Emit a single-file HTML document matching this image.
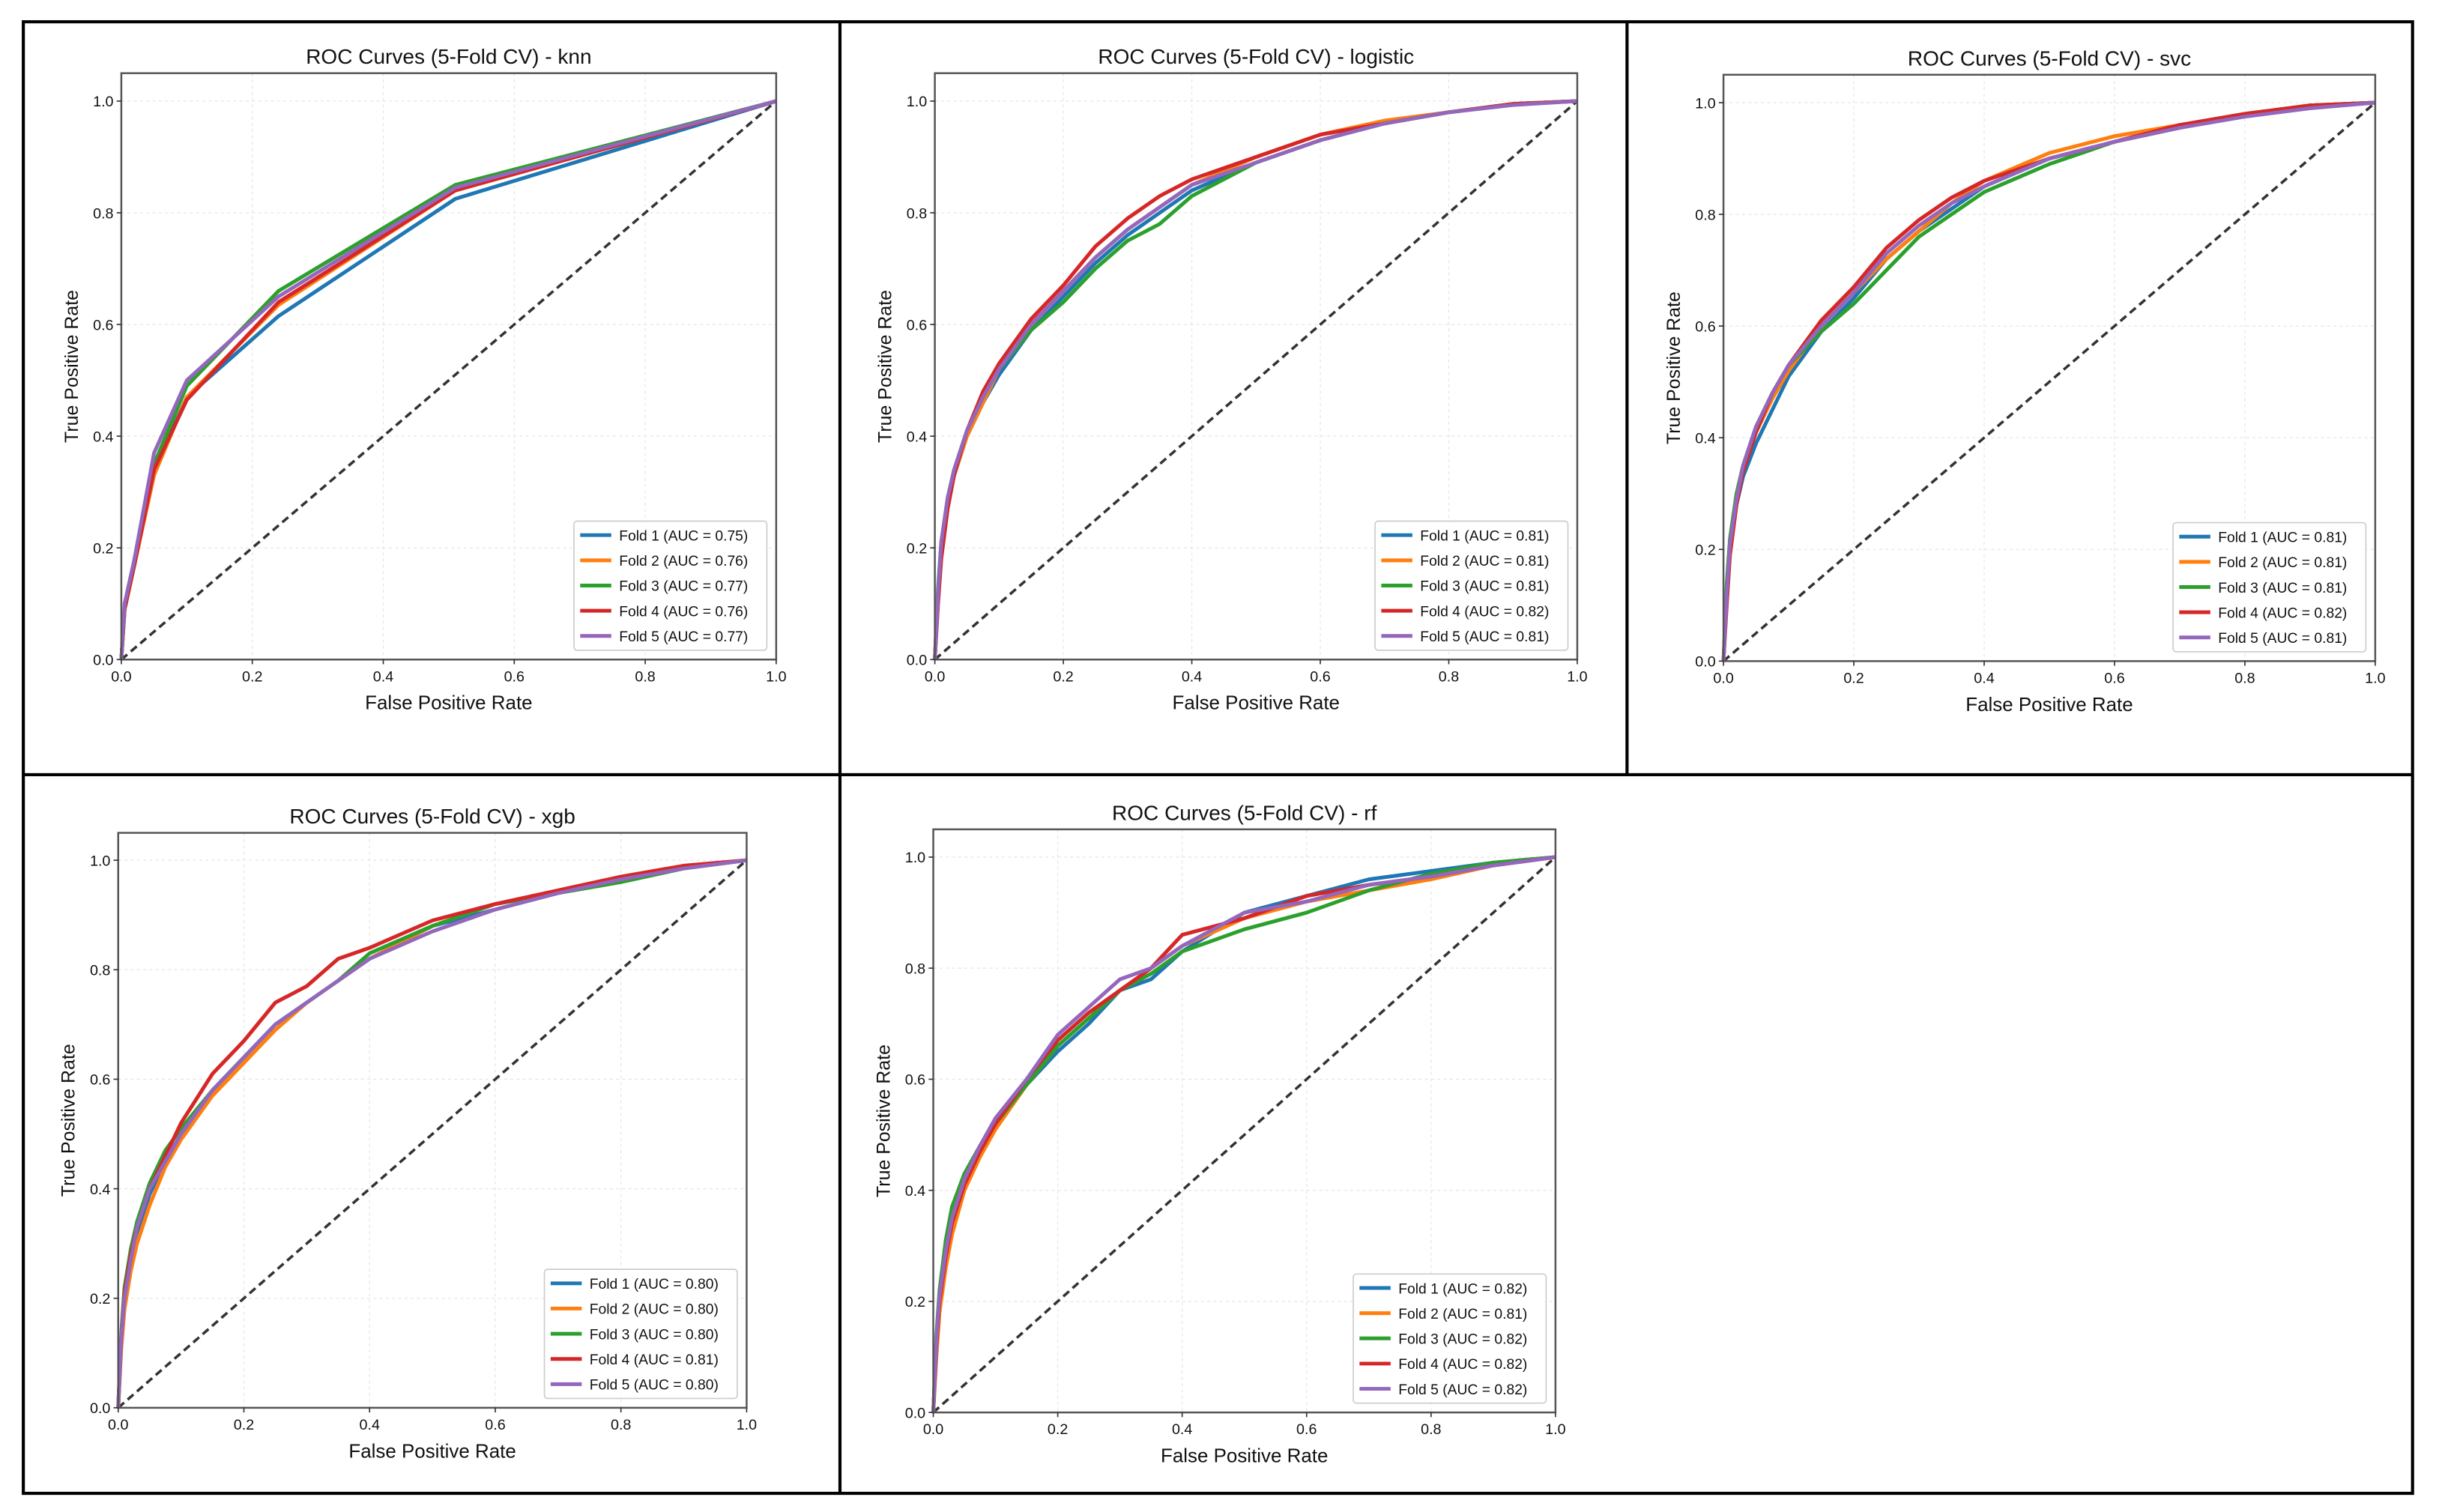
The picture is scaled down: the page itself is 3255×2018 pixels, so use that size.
<!DOCTYPE html>
<html><head><meta charset="utf-8"><style>
html,body{margin:0;padding:0;background:#fff;}
svg{display:block;}
text{font-family:"Liberation Sans",sans-serif;fill:#111;}
</style></head><body>
<svg id="fig" width="3255" height="2018" viewBox="0 0 1568 972" preserveAspectRatio="none" xmlns="http://www.w3.org/2000/svg">
<rect x="0" y="0" width="1568" height="972" fill="#fff"/>
<g id="plots"></g>
<g stroke="#000" stroke-width="2" fill="none">
<rect x="15" y="14" width="1536" height="946"/>
<line x1="540" y1="14" x2="540" y2="960"/>
<line x1="1046" y1="14" x2="1046" y2="498"/>
<line x1="15" y1="498" x2="1551" y2="498"/>
</g>
</svg>
<script>
const foldColors = ["#1f77b4","#ff7f0e","#2ca02c","#d62728","#9467bd"];
const xTicks = [0,0.2,0.4,0.6,0.8,1.0];
const yTicks = [0,0.2,0.4,0.6,0.8,1.0];
const tickLabels = ["0.0","0.2","0.4","0.6","0.8","1.0"];
const models = ["knn","logistic","svc","xgb","rf"];

const knnFpr = [0,0.005,0.02,0.05,0.1,0.24,0.51,1];
const knnTpr = [
 [0,0.09,0.17,0.34,0.47,0.615,0.825,1],
 [0,0.09,0.17,0.33,0.47,0.635,0.84,1],
 [0,0.09,0.17,0.35,0.49,0.66,0.85,1],
 [0,0.09,0.17,0.34,0.465,0.64,0.84,1],
 [0,0.1,0.18,0.37,0.50,0.65,0.845,1]
];
const knnAuc = ["0.75","0.76","0.77","0.76","0.77"];

const gridFpr = [0,0.005,0.01,0.02,0.03,0.05,0.075,0.1,0.15,0.2,0.25,0.3,0.35,0.4,0.5,0.6,0.7,0.8,0.9,1.0];
const logisticTpr = [
 [0,0.12,0.2,0.28,0.33,0.40,0.46,0.51,0.59,0.65,0.71,0.76,0.80,0.84,0.89,0.93,0.96,0.98,0.995,1],
 [0,0.11,0.19,0.28,0.33,0.40,0.46,0.52,0.60,0.66,0.72,0.77,0.81,0.85,0.90,0.94,0.965,0.98,0.995,1],
 [0,0.13,0.21,0.29,0.34,0.41,0.47,0.52,0.59,0.64,0.70,0.75,0.78,0.83,0.89,0.93,0.96,0.98,0.995,1],
 [0,0.10,0.18,0.27,0.33,0.41,0.48,0.53,0.61,0.67,0.74,0.79,0.83,0.86,0.90,0.94,0.96,0.98,0.995,1],
 [0,0.12,0.21,0.29,0.34,0.41,0.47,0.52,0.60,0.66,0.72,0.77,0.81,0.85,0.89,0.93,0.96,0.98,0.993,1]
];
const logisticAuc = ["0.81","0.81","0.81","0.82","0.81"];
const svcTpr = [
 [0,0.12,0.2,0.28,0.33,0.39,0.45,0.51,0.59,0.65,0.72,0.77,0.81,0.85,0.90,0.93,0.96,0.98,0.995,1],
 [0,0.12,0.2,0.29,0.34,0.41,0.47,0.52,0.60,0.66,0.72,0.77,0.82,0.86,0.91,0.94,0.96,0.98,0.995,1],
 [0,0.14,0.22,0.30,0.35,0.42,0.48,0.53,0.59,0.64,0.70,0.76,0.80,0.84,0.89,0.93,0.955,0.98,0.995,1],
 [0,0.10,0.19,0.28,0.34,0.41,0.48,0.53,0.61,0.67,0.74,0.79,0.83,0.86,0.90,0.93,0.96,0.98,0.995,1],
 [0,0.12,0.21,0.29,0.35,0.42,0.48,0.53,0.60,0.66,0.73,0.78,0.82,0.85,0.90,0.93,0.955,0.975,0.99,1]
];
const svcAuc = ["0.81","0.81","0.81","0.82","0.81"];
const xgbTpr = [
 [0,0.13,0.2,0.27,0.32,0.39,0.45,0.50,0.58,0.64,0.70,0.74,0.78,0.82,0.88,0.91,0.94,0.965,0.985,1],
 [0,0.11,0.18,0.25,0.30,0.37,0.44,0.49,0.57,0.63,0.69,0.74,0.78,0.82,0.88,0.92,0.94,0.965,0.985,1],
 [0,0.14,0.22,0.29,0.34,0.41,0.47,0.51,0.58,0.64,0.70,0.74,0.78,0.83,0.88,0.92,0.94,0.96,0.985,1],
 [0,0.13,0.21,0.28,0.33,0.40,0.46,0.52,0.61,0.67,0.74,0.77,0.82,0.84,0.89,0.92,0.945,0.97,0.99,1],
 [0,0.13,0.2,0.27,0.33,0.40,0.45,0.50,0.58,0.64,0.70,0.74,0.78,0.82,0.87,0.91,0.94,0.965,0.985,1]
];
const xgbAuc = ["0.80","0.80","0.80","0.81","0.80"];
const rfTpr = [
 [0,0.13,0.2,0.28,0.34,0.42,0.47,0.52,0.59,0.65,0.70,0.76,0.78,0.83,0.90,0.93,0.96,0.975,0.99,1],
 [0,0.10,0.18,0.26,0.32,0.40,0.46,0.51,0.59,0.66,0.71,0.76,0.80,0.84,0.89,0.92,0.94,0.96,0.985,1],
 [0,0.14,0.22,0.31,0.37,0.43,0.48,0.52,0.59,0.66,0.71,0.76,0.79,0.83,0.87,0.90,0.94,0.97,0.99,1],
 [0,0.12,0.2,0.28,0.34,0.41,0.47,0.52,0.60,0.67,0.72,0.76,0.80,0.86,0.89,0.93,0.95,0.965,0.985,1],
 [0,0.13,0.21,0.29,0.35,0.42,0.48,0.53,0.60,0.68,0.73,0.78,0.80,0.84,0.90,0.92,0.95,0.965,0.985,1]
];
const rfAuc = ["0.82","0.81","0.82","0.82","0.82"];

const panels = [
 {name:"knn", x0:78, x1:499, yZero:424, yOne:65, fpr:knnFpr, tpr:knnTpr, auc:knnAuc},
 {name:"logistic", x0:601, x1:1014, yZero:424, yOne:65, fpr:gridFpr, tpr:logisticTpr, auc:logisticAuc},
 {name:"svc", x0:1108, x1:1527, yZero:425, yOne:66, fpr:gridFpr, tpr:svcTpr, auc:svcAuc},
 {name:"xgb", x0:76, x1:480, yZero:905, yOne:553, fpr:gridFpr, tpr:xgbTpr, auc:xgbAuc},
 {name:"rf", x0:600, x1:1000, yZero:908, yOne:551, fpr:gridFpr, tpr:rfTpr, auc:rfAuc}
];

const NS="http://www.w3.org/2000/svg";
const root=document.getElementById("plots");
function mk(tag,attrs,parent){const e=document.createElementNS(NS,tag);for(const k in attrs)e.setAttribute(k,attrs[k]);parent.appendChild(e);return e;}

panels.forEach(p=>{
 const sx=v=>p.x0+(p.x1-p.x0)*v;
 const sy=v=>p.yZero-(p.yZero-p.yOne)*v;
 const top=sy(1.05);
 const g=mk("g",{},root);
 
 
 xTicks.forEach(t=>{const l=mk("line",{x1:sx(t),x2:sx(t),y1:top,y2:p.yZero,stroke:"#e6e6e6","stroke-width":0.6,"stroke-dasharray":"2,2"},g);
  
  });
 yTicks.forEach(t=>{const l=mk("line",{x1:p.x0,x2:p.x1,y1:sy(t),y2:sy(t),stroke:"#e6e6e6","stroke-width":0.6,"stroke-dasharray":"2,2"},g);
  
  });
 const d=mk("line",{x1:sx(0),y1:sy(0),x2:sx(1),y2:sy(1),stroke:"#333","stroke-width":1.7,"stroke-dasharray":"5,3"},g);
 
 
 p.tpr.forEach((arr,i)=>{
  const pts=arr.map((v,j)=>sx(p.fpr[j]).toFixed(2)+","+sy(v).toFixed(2)).join(" ");
  const c=mk("polyline",{points:pts,fill:"none",stroke:foldColors[i],"stroke-width":2.4,"stroke-linejoin":"round"},g);
  
  
 });
 const b=mk("rect",{x:p.x0,y:top,width:p.x1-p.x0,height:p.yZero-top,fill:"none",stroke:"#555","stroke-width":1.2},g);
 
 
 xTicks.forEach((t,i)=>{
  mk("line",{x1:sx(t),x2:sx(t),y1:p.yZero,y2:p.yZero+3,stroke:"#333","stroke-width":0.8},g);
  const tx=mk("text",{x:sx(t),y:p.yZero+14,"font-size":9.5,"text-anchor":"middle"},g);
  tx.textContent=tickLabels[i];
  
  
 });
 yTicks.forEach((t,i)=>{
  mk("line",{x1:p.x0-3,x2:p.x0,y1:sy(t),y2:sy(t),stroke:"#333","stroke-width":0.8},g);
  const tx=mk("text",{x:p.x0-5,y:sy(t)+3.5,"font-size":9.5,"text-anchor":"end"},g);
  tx.textContent=tickLabels[i];
  
  
 });
 const cx=(p.x0+p.x1)/2;
 const t=mk("text",{x:cx,y:top-6,"font-size":13.5,"text-anchor":"middle"},g);
 t.textContent="ROC Curves (5-Fold CV) - "+p.name;
 
 
 const xl=mk("text",{x:cx,y:p.yZero+32,"font-size":12.5,"text-anchor":"middle"},g);
 xl.textContent="False Positive Rate";
 
 
 const ym=(top+p.yZero)/2;
 const yl=mk("text",{x:p.x0-28,y:ym,"font-size":12,"text-anchor":"middle",transform:"rotate(-90 "+(p.x0-28)+" "+ym+")"},g);
 yl.textContent="True Positive Rate";
 
 
 const lw=124, lh=83, lx=p.x1-lw-6, ly=p.yZero-lh-6;
 const lg=mk("g",{},g);
 
 
 mk("rect",{x:lx,y:ly,width:lw,height:lh,rx:2,fill:"#fff","fill-opacity":0.85,stroke:"#ccc","stroke-width":0.8},lg);
 p.auc.forEach((a,i)=>{
  const yy=ly+9+i*16.2;
  const e=mk("g",{},lg);
  
  
  mk("line",{x1:lx+4,x2:lx+24,y1:yy,y2:yy,stroke:foldColors[i],"stroke-width":2.4},e);
  const tx=mk("text",{x:lx+29,y:yy+3.5,"font-size":9.3},e);
  tx.textContent="Fold "+(i+1)+" (AUC = "+a+")";
 });
});
</script>
</body></html>
